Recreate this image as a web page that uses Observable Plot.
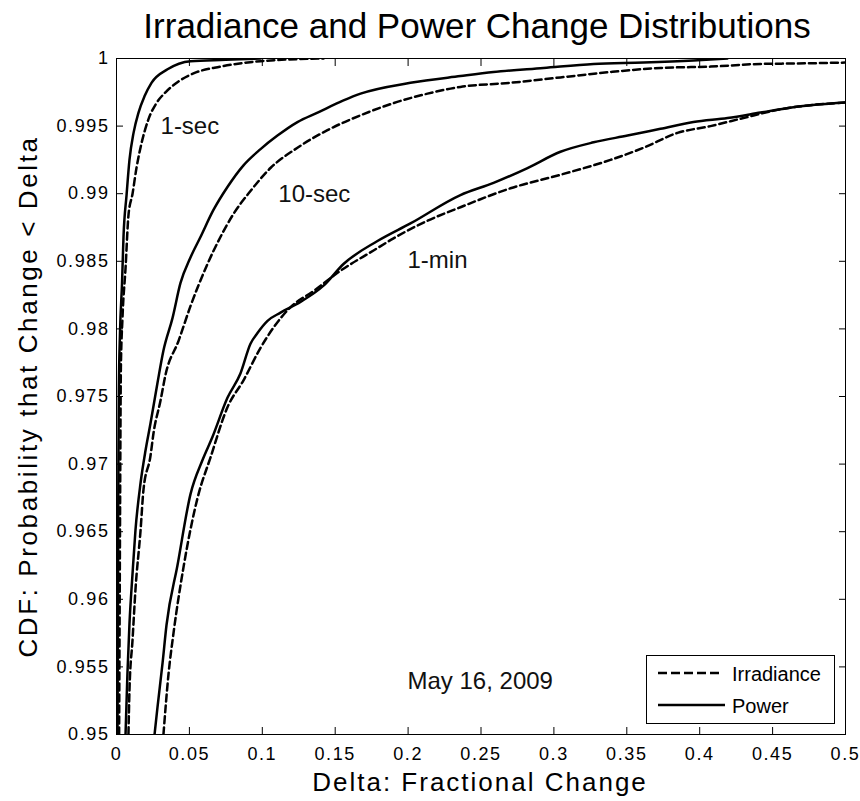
<!DOCTYPE html>
<html><head><meta charset="utf-8">
<script src="https://cdn.jsdelivr.net/npm/d3@7"></script>
<script src="https://cdn.jsdelivr.net/npm/@observablehq/plot@0.6"></script>
<style>
body{margin:0;background:#fff;}
#wrap{position:relative;width:860px;height:801px;background:#fff;}
#legend{position:absolute;left:646px;top:655px;width:189px;height:69px;box-sizing:border-box;border:1px solid #000;background:#fff;font-family:"Liberation Sans",Arial,sans-serif;}
</style></head>
<body><div id="wrap"></div>
<script>
const titleText = "Irradiance and Power Change Distributions";
const xLabelText = "Delta: Fractional Change";
const yLabelText = "CDF: Probability that Change < Delta";
const legendNames = ["Irradiance", "Power"];

const xTicks = [0, 0.05, 0.1, 0.15, 0.2, 0.25, 0.3, 0.35, 0.4, 0.45, 0.5];
const xTickLabels = ["0", "0.05", "0.1", "0.15", "0.2", "0.25", "0.3", "0.35", "0.4", "0.45", "0.5"];
const yTicks = [0.95, 0.955, 0.96, 0.965, 0.97, 0.975, 0.98, 0.985, 0.99, 0.995, 1];
const yTickLabels = ["0.95", "0.955", "0.96", "0.965", "0.97", "0.975", "0.98", "0.985", "0.99", "0.995", "1"];

// [delta, cdf]
const sec1Power = [[0.0007,0.95],[0.0010,0.96],[0.0013,0.97],[0.0016,0.9754],[0.0024,0.9797],[0.0038,0.9834],[0.0048,0.9868],[0.0069,0.9899],[0.0089,0.9925],[0.0117,0.9945],[0.0151,0.9960],[0.0192,0.9972],[0.0240,0.9982],[0.0350,0.9992],[0.0508,0.9998],[0.0748,0.9999],[0.0988,1.0]];
const sec1Irr = [[0.0018,0.95],[0.0022,0.96],[0.0026,0.97],[0.0030,0.9771],[0.0041,0.9808],[0.0062,0.9845],[0.0082,0.9884],[0.0110,0.9900],[0.0137,0.9919],[0.0171,0.9937],[0.0219,0.9955],[0.0274,0.9967],[0.0336,0.9975],[0.0425,0.9983],[0.0528,0.9989],[0.0713,0.9994],[0.0988,0.9998],[0.142,1.0]];
const sec10Power = [[0.0062,0.95],[0.0075,0.9545],[0.0089,0.9582],[0.0110,0.9619],[0.0130,0.9651],[0.0165,0.9686],[0.0199,0.9710],[0.0233,0.9730],[0.0281,0.9760],[0.0322,0.9784],[0.0384,0.9808],[0.0439,0.9834],[0.0508,0.9853],[0.0576,0.9868],[0.0665,0.9888],[0.0761,0.9905],[0.0871,0.9921],[0.0988,0.9933],[0.1104,0.9943],[0.1241,0.9953],[0.1379,0.9960],[0.1557,0.9969],[0.1674,0.9974],[0.2016,0.9982],[0.2359,0.9987],[0.2586,0.9990],[0.2929,0.9993],[0.3272,0.9996],[0.3615,0.9997],[0.3957,0.99985],[0.4191,1.0]];
const sec10Irr = [[0.0082,0.95],[0.0089,0.9533],[0.0110,0.9570],[0.0130,0.9607],[0.0165,0.9651],[0.0185,0.9681],[0.0233,0.9706],[0.0254,0.9723],[0.0302,0.9747],[0.0336,0.9766],[0.0425,0.9791],[0.0508,0.9817],[0.0624,0.9848],[0.0713,0.9868],[0.0802,0.9885],[0.0919,0.9902],[0.1056,0.9919],[0.1241,0.9934],[0.1447,0.9947],[0.1674,0.9958],[0.1900,0.9967],[0.2133,0.9974],[0.2359,0.9979],[0.2702,0.9982],[0.3045,0.9986],[0.3388,0.9990],[0.3731,0.9993],[0.4074,0.9994],[0.4417,0.9996],[0.4643,0.99963],[0.5,0.9997]];
const min1Power = [[0.0261,0.95],[0.0281,0.9520],[0.0316,0.9553],[0.0343,0.9581],[0.0418,0.9625],[0.0508,0.9678],[0.0590,0.9703],[0.0658,0.9720],[0.0761,0.9749],[0.0850,0.9767],[0.0919,0.9789],[0.0967,0.9797],[0.1036,0.9806],[0.1125,0.9812],[0.1262,0.9820],[0.1420,0.9832],[0.1557,0.9848],[0.1790,0.9865],[0.2016,0.9878],[0.2359,0.9899],[0.2586,0.9908],[0.2819,0.9919],[0.3045,0.9931],[0.3272,0.9938],[0.3505,0.9943],[0.3731,0.9948],[0.3957,0.9953],[0.4191,0.9956],[0.4417,0.9960],[0.4643,0.9964],[0.5,0.99675]];
const min1Irr = [[0.0322,0.95],[0.0357,0.9545],[0.0391,0.9575],[0.0460,0.9624],[0.0556,0.9675],[0.0645,0.9705],[0.0761,0.9742],[0.0871,0.9762],[0.0988,0.9786],[0.1077,0.9801],[0.1193,0.9816],[0.1351,0.9828],[0.1536,0.9843],[0.1763,0.9858],[0.1900,0.9867],[0.2133,0.9880],[0.2359,0.9890],[0.2702,0.9904],[0.3045,0.9914],[0.3388,0.9925],[0.3615,0.9934],[0.3848,0.9945],[0.4074,0.9950],[0.4300,0.9956],[0.4534,0.9962],[0.5,0.99675]];

const noteTexts = ["1-sec", "10-sec", "1-min", "May 16, 2009"];
const noteX = [0.0302, 0.111, 0.1996, 0.1996];
const noteY = [0.99445, 0.98935, 0.98447, 0.9534];

const notes = noteTexts.map((t, i) => ({t, x: noteX[i], y: noteY[i]}));
const FONT = '"Liberation Sans", Arial, Helvetica, sans-serif';
const solid = {x: d => d[0], y: d => d[1], stroke: "black", strokeWidth: 2.5, curve: "monotone-x"};
const dashed = {...solid, strokeDasharray: "7,4"};
const fmtX = d => { const i = xTicks.indexOf(d); return i >= 0 ? xTickLabels[i] : String(d); };
const fmtY = d => { const i = yTicks.indexOf(d); return i >= 0 ? yTickLabels[i] : String(d); };

const chart = Plot.plot({
  width: 860, height: 801,
  marginLeft: 116, marginRight: 15, marginTop: 58, marginBottom: 67,
  clip: true,
  style: {fontFamily: FONT, background: "white", color: "black"},
  x: {domain: [0, 0.5], label: null},
  y: {domain: [0.95, 1], label: null},
  marks: [
    Plot.frame({stroke: "black", strokeWidth: 1}),
    Plot.line(sec1Irr, dashed),
    Plot.line(sec1Power, solid),
    Plot.line(sec10Irr, dashed),
    Plot.line(sec10Power, solid),
    Plot.line(min1Irr, dashed),
    Plot.line(min1Power, solid),
    Plot.axisX({anchor: "bottom", ticks: xTicks, tickSize: 0, tickPadding: 13, tickFormat: fmtX, fontSize: 18, label: null, ariaLabel: "xticklabels"}),
    Plot.axisX({anchor: "bottom", ticks: xTicks, tickSize: -7, tickFormat: () => "", label: null}),
    Plot.axisX({anchor: "top", ticks: xTicks, tickSize: -7, tickFormat: () => "", label: null}),
    Plot.axisY({anchor: "left", ticks: yTicks, tickSize: 0, tickPadding: 7, tickFormat: fmtY, fontSize: 18, label: null, ariaLabel: "yticklabels"}),
    Plot.axisY({anchor: "left", ticks: yTicks, tickSize: -7, tickFormat: () => "", label: null}),
    Plot.axisY({anchor: "right", ticks: yTicks, tickSize: -7, tickFormat: () => "", label: null}),
    Plot.text(notes, {x: "x", y: "y", text: "t", textAnchor: "start", lineAnchor: "bottom", fontSize: 24, fill: "#111", clip: false}),
    Plot.text([titleText], {text: d => d, frameAnchor: "top", textAnchor: "middle", lineAnchor: "bottom", dy: -21, dx: -4, fontSize: 35, clip: false}),
    Plot.text([xLabelText], {text: d => d, frameAnchor: "bottom", textAnchor: "middle", lineAnchor: "bottom", dy: 56, dx: -1, fontSize: 26, ariaLabel: "xtitle", clip: false}),
    Plot.text([yLabelText], {text: d => d, frameAnchor: "left", textAnchor: "middle", lineAnchor: "bottom", rotate: -90, dx: -80, fontSize: 26, ariaLabel: "ytitle", clip: false})
  ]
});
const wrap = document.getElementById("wrap");
wrap.appendChild(chart);

// letter spacing tweaks to mimic the original's wide text rendering
const sel = d3.select(chart);
sel.selectAll("text").filter(function() { return this.textContent && /^[0-9.]+$/.test(this.textContent) && this.closest("g") && this.closest("g").getAttribute("aria-label") !== "text"; })
  .attr("letter-spacing", "1.6").style("letter-spacing", "1.6px");
sel.selectAll("text").filter(function() { return this.textContent === xLabelText; })
  .attr("letter-spacing", "2").style("letter-spacing", "2px");
sel.selectAll("text").filter(function() { return this.textContent === yLabelText; })
  .attr("letter-spacing", "2.6").style("letter-spacing", "2.6px");

const legend = document.createElement("div");
legend.id = "legend";
legend.innerHTML = `<svg width="187" height="67" style="display:block">
  <line x1="11" x2="75" y1="17" y2="17" stroke="black" stroke-width="2.5" stroke-dasharray="9,4"/>
  <line x1="11" x2="78" y1="49" y2="49" stroke="black" stroke-width="2.5"/>
  <text x="85" y="19" dy="0.32em" font-size="20" font-family='${FONT}'>${legendNames[0]}</text>
  <text x="85" y="51" dy="0.32em" font-size="20" font-family='${FONT}'>${legendNames[1]}</text>
</svg>`;
wrap.appendChild(legend);
</script></body></html>
